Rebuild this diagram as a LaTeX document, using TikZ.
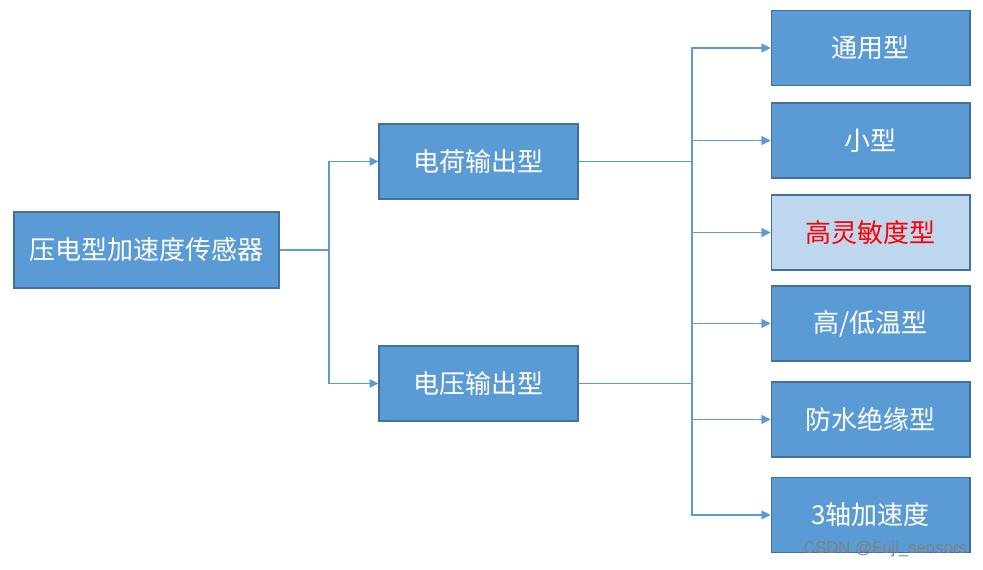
\documentclass[tikz,border=0pt]{standalone}
\usepackage{fontspec}
\newfontfamily\cjk{Noto Sans CJK SC}
\setsansfont{Liberation Sans}
\usepackage{tikz}
\usetikzlibrary{positioning,arrows.meta,calc}
\usepackage{xcolor}
\definecolor{boxblue}{HTML}{5B9BD5}
\definecolor{boxedge}{HTML}{41719C}
\definecolor{boxlight}{HTML}{BDD7EE}

\begin{document}
\begin{tikzpicture}[
  x=0.02cm, y=-0.02cm,
  font=\cjk\fontsize{14.8}{18}\selectfont,
  >={Triangle[length=0.18cm, width=0.17cm]},
  box/.style={draw=boxedge, line width=0.6pt, fill=boxblue, text=white, minimum width=3.98cm, minimum height=1.5cm, inner sep=0pt, align=center},
  hibox/.style={box, fill=boxlight, text=red},
  link/.style={->, line width=0.6pt, boxblue},
]
\useasboundingbox (0,0) rectangle (983,569);

% Root
\node[box, minimum width=5.3cm, minimum height=1.52cm] (root) at (146.5,250) {压电型加速度传感器};

% Output types
\node[box] (charge) at (478.5,161.5) {电荷输出型};
\node[box] (voltage) at (478.5,383.5) {电压输出型};

% Sensor kinds
\node[box] (k1) at (870.5,48) {通用型};
\node[box] (k2) at (870.5,140.5) {小型};
\node[hibox] (k3) at (870.5,232.5) {高灵敏度型};
\node[box] (k4) at (870.5,323.5) {高/低温型};
\node[box] (k5) at (870.5,419.5) {防水绝缘型};
\node[box] (k6) at (870.5,515) {3轴加速度};

% Junctions
\coordinate (j1) at (329,250);
\coordinate (j2) at (692,250);

% Root -> output types
\draw[link] (root.east) -- (j1) |- (charge.west);
\draw[link] (root.east) -- (j1) |- (voltage.west);

% Output types -> kinds
\foreach \k in {k1,k2,k3,k4,k5,k6} {
  \draw[link] (charge.east) -- (charge.east -| j2) |- (\k.west);
  \draw[link] (voltage.east) -- (voltage.east -| j2) |- (\k.west);
}

% Watermark
\node[font=\sffamily\fontsize{9.5}{11}\selectfont, text=black!50] (mark) at (885,549) {CSDN @Fuji\_sensors};

\end{tikzpicture}
\end{document}
